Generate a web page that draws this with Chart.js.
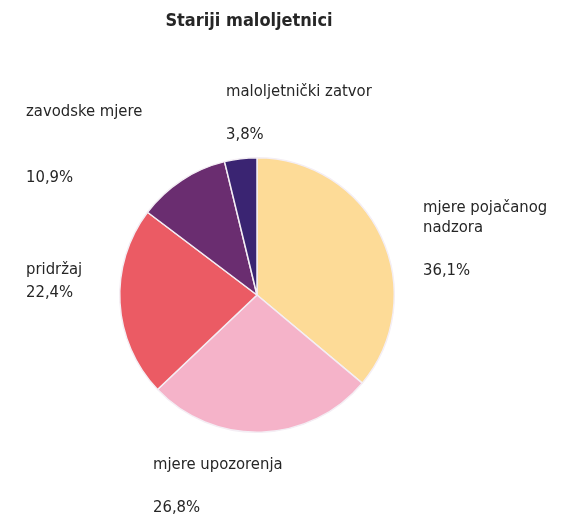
<!DOCTYPE html>
<html>
<head>
<meta charset="utf-8">
<script src="https://cdn.jsdelivr.net/npm/chart.js@4/dist/chart.umd.min.js"></script>
<style>
  body { margin: 0; background: #fff; }
  canvas { display: block; }
</style>
</head>
<body>
<canvas id="pie" width="571" height="520"></canvas>
<script>
const title = 'Stariji maloljetnici';
const categories = ['mjere pojačanog|nadzora', 'mjere upozorenja', 'pridržaj', 'zavodske mjere', 'maloljetnički zatvor'];
const values = [36.1, 26.8, 22.4, 10.9, 3.8];
const colors = ['#FDDB97', '#F5B3C9', '#EB5B64', '#6A2D70', '#3A2472'];

// where each label sits: [x, y of first line, y of percentage]
const labelSpots = [
  [423, 208, 271],
  [153, 465, 508],
  [26, 270, 293],
  [26, 112, 178],
  [226, 92, 135]
];

const FONT = '"Liberation Sans Narrow", "DejaVu Sans Condensed", "Roboto", sans-serif';

const labelPlugin = {
  id: 'labels',
  afterDraw(chart) {
    const ctx = chart.ctx;
    ctx.save();
    ctx.fillStyle = '#262626';
    ctx.textBaseline = 'middle';
    ctx.textAlign = 'center';
    ctx.font = 'bold 18px ' + FONT;
    ctx.fillText(title, 249, 21);
    ctx.textAlign = 'left';
    ctx.font = '16.5px ' + FONT;
    categories.forEach((c, i) => {
      const [x, y, py] = labelSpots[i];
      c.split('|').forEach((line, k) => ctx.fillText(line, x, y + k * 20));
      ctx.fillText(values[i].toFixed(1).replace('.', ',') + '%', x, py);
    });
    ctx.restore();
  }
};

new Chart(document.getElementById('pie'), {
  type: 'pie',
  data: {
    labels: categories.map(c => c.replace('|', ' ')),
    datasets: [{
      data: values,
      backgroundColor: colors,
      borderColor: '#f4eef4',
      borderWidth: 1.5
    }]
  },
  options: {
    responsive: false,
    animation: false,
    layout: { padding: { left: 119, right: 176, top: 157, bottom: 87 } },
    plugins: { legend: { display: false }, tooltip: { enabled: false } }
  },
  plugins: [labelPlugin]
});
</script>
</body>
</html>
